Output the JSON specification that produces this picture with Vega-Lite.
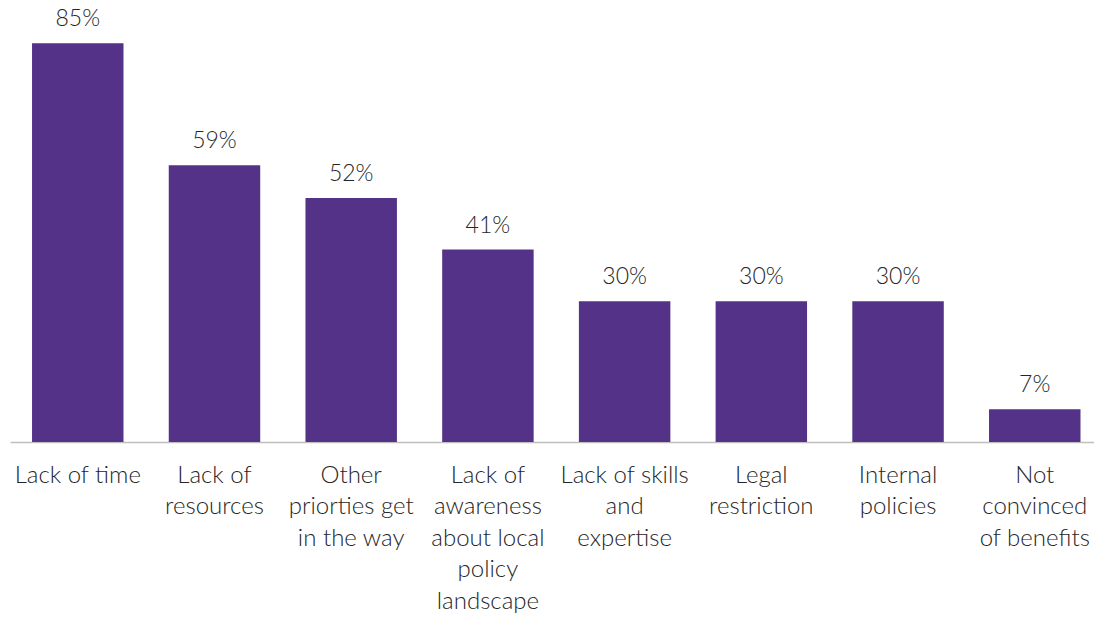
{
  "$schema": "https://vega.github.io/schema/vega-lite/v6.json",
  "width": 1084,
  "height": 442,
  "padding": {"left": 10, "top": 0, "right": 0, "bottom": 10},
  "background": "white",
  "config": {"view": {"stroke": null}, "font": "Lato"},
  "data": {
    "values": [
      {"category": "Lack of time", "value": 85},
      {"category": "Lack of|resources", "value": 59},
      {"category": "Other|priorties get|in the way", "value": 52},
      {"category": "Lack of|awareness|about local|policy|landscape", "value": 41},
      {"category": "Lack of skills|and|expertise", "value": 30},
      {"category": "Legal|restriction", "value": 30},
      {"category": "Internal|policies", "value": 30},
      {"category": "Not|convinced|of benefits", "value": 7}
    ]
  },
  "transform": [{"calculate": "datum.value + '%'", "as": "label"}],
  "encoding": {
    "x": {
      "field": "category",
      "type": "nominal",
      "sort": null,
      "scale": {"paddingInner": 0.331, "paddingOuter": 0.13, "align": 0.62},
      "axis": {
        "title": null,
        "labelAngle": 0,
        "labelExpr": "split(datum.label, '|')",
        "labelFont": "Lato",
        "labelFontWeight": 300,
        "labelFontSize": 24,
        "labelLineHeight": 31.5,
        "labelColor": "#262626",
        "labelPadding": 21,
        "labelLimit": 300,
        "ticks": false,
        "domainColor": "#bfbfbf",
        "domainWidth": 1.5
      }
    },
    "y": {
      "field": "value",
      "type": "quantitative",
      "scale": {"domain": [0, 94.2], "nice": false},
      "axis": null
    }
  },
  "layer": [
    {"mark": {"type": "bar", "color": "#533287"}},
    {
      "mark": {
        "type": "text",
        "baseline": "bottom",
        "dy": -12,
        "font": "Lato",
        "fontWeight": 300,
        "fontSize": 23,
        "color": "#262626"
      },
      "encoding": {"text": {"field": "label", "type": "nominal"}}
    }
  ]
}
